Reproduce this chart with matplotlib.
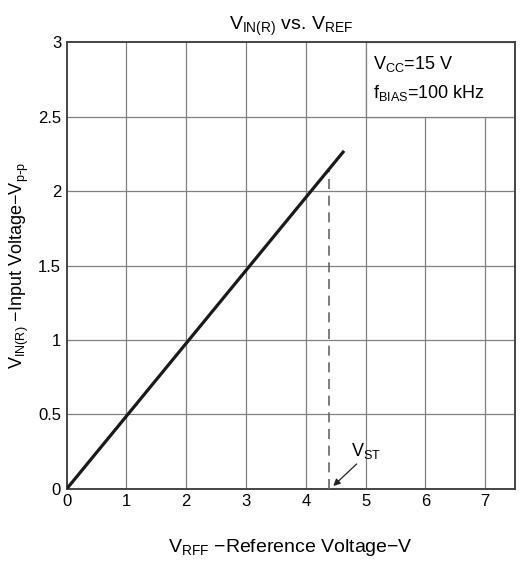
import matplotlib.pyplot as plt
from matplotlib.patches import Rectangle

plt.rcParams['font.family'] = ['Liberation Sans', 'DejaVu Sans']
plt.rcParams['mathtext.default'] = 'regular'

# data
v_ref = [0, 4.64]
v_in = [0, 2.27]
v_st = 4.39
v_st_top = 2.15
x_ticks = [0, 1, 2, 3, 4, 5, 6, 7]
y_ticks = [0, 0.5, 1, 1.5, 2, 2.5, 3]
y_labels = ['0', '0.5', '1', '1.5', '2', '2.5', '3']

fig = plt.figure(figsize=(5.25, 5.62), dpi=100)
ax = fig.add_axes([0.127, 0.130, 0.854, 0.795])
ax.set_xlim(0, 7.5)
ax.set_ylim(0, 3)

# grid
for x in x_ticks[1:]:
    ax.axvline(x, color='#808080', lw=0.9, zorder=1)
for y in y_ticks[1:-1]:
    ax.axhline(y, color='#808080', lw=0.9, zorder=1)

# white box for the conditions note
ax.add_patch(Rectangle((5, 2.5), 2.5, 0.5, facecolor='white', edgecolor='#808080',
                       lw=0.9, zorder=2))
ax.text(5.12, 2.85, '$V_{CC}$=15 V', fontsize=13, va='center', zorder=3)
ax.text(5.12, 2.66, '$f_{BIAS}$=100 kHz', fontsize=13, va='center', zorder=3)

ax.plot(v_ref, v_in, color='#1a1a1a', lw=2.3, zorder=4, solid_capstyle='butt')
ax.plot([v_st, v_st], [0, v_st_top], color='#666666', lw=1.2, ls=(0, (6, 4)), zorder=3)

ax.annotate('$V_{ST}$', xy=(v_st + 0.07, 0.02), xytext=(4.76, 0.22), fontsize=13,
            arrowprops=dict(arrowstyle='-|>', color='#222222', lw=0.9, shrinkA=0, shrinkB=0,
                            mutation_scale=10, relpos=(0.35, 0.1)),
            zorder=5)

ax.set_xticks(x_ticks)
ax.set_yticks(y_ticks)
ax.set_yticklabels(y_labels)
ax.tick_params(length=0, labelsize=12, pad=4)
for s in ax.spines.values():
    s.set_color('#444444')
    s.set_linewidth(1.4)

ax.set_title('$V_{IN(R)}$ vs. $V_{REF}$', fontsize=14, pad=9)
ax.set_xlabel('$V_{RFF}$ \u2212Reference Voltage\u2212V', fontsize=14, labelpad=20)
ax.set_ylabel('$V_{IN(R)}$ \u2212Input Voltage\u2212V$_{p\\text{-}p}$', fontsize=13, labelpad=5)

fig.savefig('out.png', dpi=100)
